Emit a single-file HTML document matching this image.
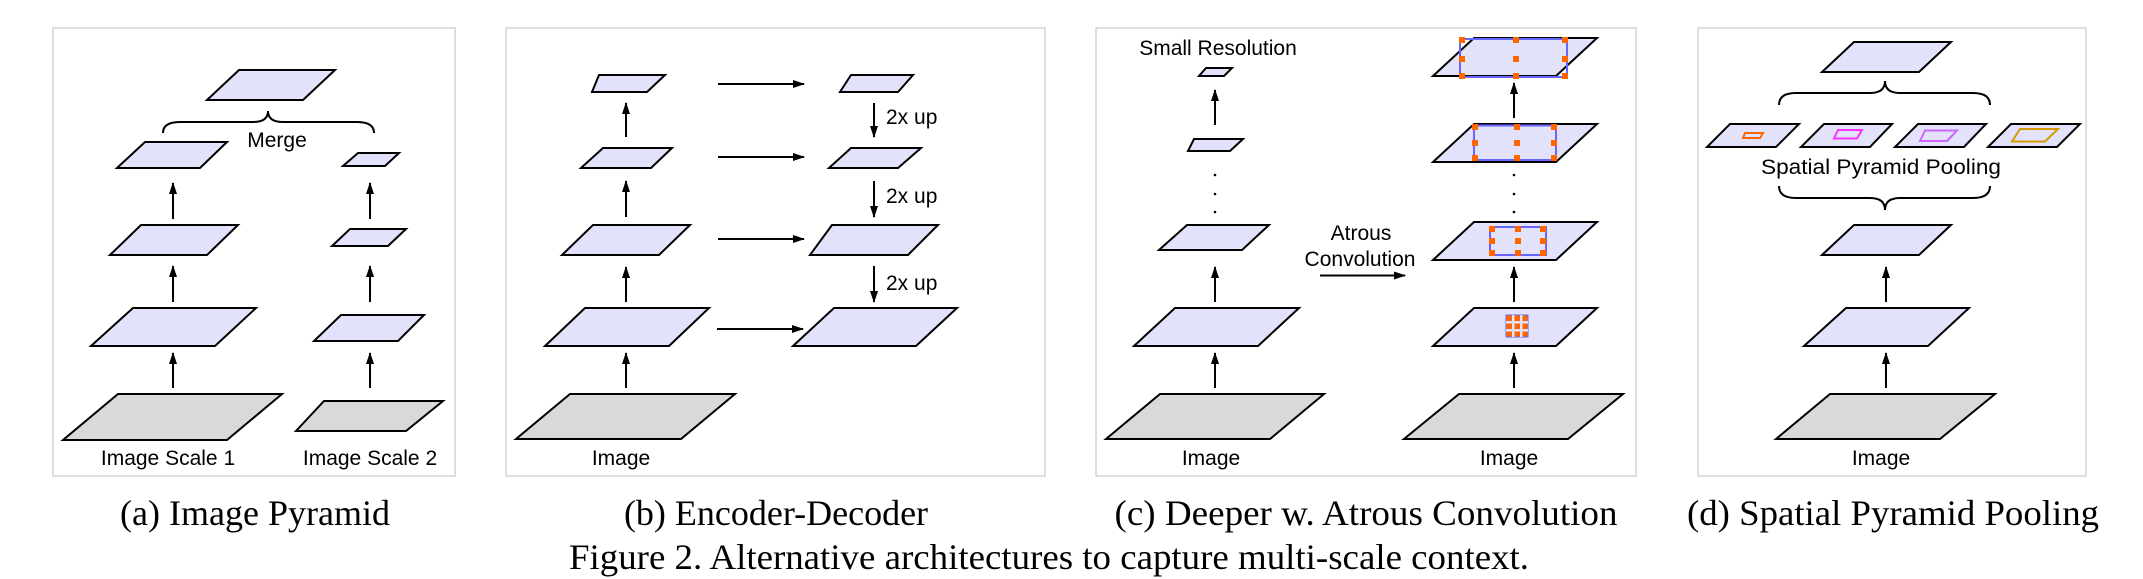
<!DOCTYPE html>
<html><head><meta charset="utf-8"><style>
html,body{margin:0;padding:0;background:#fff}
svg{display:block}
.p{fill:#e2e2fa;stroke:#000;stroke-width:2;stroke-linejoin:miter}
.g{fill:#d9d9d9;stroke:#000;stroke-width:2}
.box{fill:none;stroke:#d4d4d4;stroke-width:1.5}
.s{font-family:"Liberation Sans",sans-serif;font-size:21px;fill:#000}
.c{font-family:"Liberation Serif",serif;font-size:36px;fill:#000}
.ar{stroke:#000;stroke-width:2;fill:none;marker-end:url(#ah)}
.br{fill:none;stroke:#000;stroke-width:2}
.o{fill:#ff6600}
.bl{fill:none;stroke:#6666ff;stroke-width:2}
</style></head><body>
<svg width="2143" height="579" viewBox="0 0 2143 579" xmlns="http://www.w3.org/2000/svg">
<defs><marker id="ah" markerUnits="userSpaceOnUse" markerWidth="12" markerHeight="8" refX="11" refY="4" orient="auto"><path d="M0,0 L12,4 L0,8 z" fill="#000"/></marker></defs>

<!-- Panel a -->
<rect class="box" x="53" y="28" width="402" height="448"/>
<polygon class="p" points="239,70 335,70 303,100 207,100"/>
<path class="br" d="M163,133 Q163,122 180,122 L253,122 Q268,122 268,111 Q268,122 283,122 L357,122 Q374,122 374,133"/>
<text class="s" x="277" y="147" text-anchor="middle">Merge</text>
<polygon class="p" points="145,142 227,142 200,168 117,168"/>
<line class="ar" x1="173" y1="219" x2="173" y2="183"/>
<polygon class="p" points="141,225 238,225 207,255 110,255"/>
<line class="ar" x1="173" y1="302" x2="173" y2="266"/>
<polygon class="p" points="133,308 256,308 215,346 91,346"/>
<line class="ar" x1="173" y1="388" x2="173" y2="353"/>
<polygon class="g" points="118,394 282,394 227,440 63,440"/>
<text class="s" x="168" y="465" text-anchor="middle">Image Scale 1</text>
<polygon class="p" points="358,153 399,153 385,166 343,166"/>
<line class="ar" x1="370" y1="219" x2="370" y2="183"/>
<polygon class="p" points="350,229 406,229 388,246 332,246"/>
<line class="ar" x1="370" y1="302" x2="370" y2="266"/>
<polygon class="p" points="341,315 424,315 398,341 314,341"/>
<line class="ar" x1="370" y1="388" x2="370" y2="353"/>
<polygon class="g" points="324,401 443,401 406,431 296,431"/>
<text class="s" x="370" y="465" text-anchor="middle">Image Scale 2</text>
<text class="c" x="255" y="525" text-anchor="middle">(a) Image Pyramid</text>

<!-- Panel b -->
<rect class="box" x="506" y="28" width="539" height="448"/>
<polygon class="p" points="599,75 665,75 647,92 592,92"/>
<line class="ar" x1="626" y1="137" x2="626" y2="103"/>
<polygon class="p" points="603,148 672,148 651,168 581,168"/>
<line class="ar" x1="626" y1="217" x2="626" y2="181"/>
<polygon class="p" points="593,225 690,225 659,255 562,255"/>
<line class="ar" x1="626" y1="302" x2="626" y2="267"/>
<polygon class="p" points="585,308 709,308 669,346 545,346"/>
<line class="ar" x1="626" y1="388" x2="626" y2="353"/>
<polygon class="g" points="570,394 735,394 681,439 516,439"/>
<text class="s" x="621" y="465" text-anchor="middle">Image</text>
<line class="ar" x1="718" y1="84" x2="804" y2="84"/>
<line class="ar" x1="718" y1="157" x2="804" y2="157"/>
<line class="ar" x1="718" y1="239" x2="804" y2="239"/>
<line class="ar" x1="717" y1="329" x2="803" y2="329"/>
<polygon class="p" points="851,75 913,75 898,92 840,92"/>
<line class="ar" x1="874" y1="103" x2="874" y2="137"/>
<text class="s" x="886" y="124">2x up</text>
<polygon class="p" points="851,148 921,148 898,168 829,168"/>
<line class="ar" x1="874" y1="181" x2="874" y2="217"/>
<text class="s" x="886" y="203">2x up</text>
<polygon class="p" points="832,225 938,225 908,255 810,255"/>
<line class="ar" x1="874" y1="266" x2="874" y2="302"/>
<text class="s" x="886" y="290">2x up</text>
<polygon class="p" points="834,308 957,308 916,346 793,346"/>
<text class="c" x="776" y="525" text-anchor="middle">(b) Encoder-Decoder</text>

<!-- Panel c -->
<rect class="box" x="1096" y="28" width="540" height="448"/>
<text class="s" x="1218" y="55" text-anchor="middle">Small Resolution</text>
<polygon class="p" points="1206,68 1232,68 1224,76 1199,76"/>
<line class="ar" x1="1215" y1="125" x2="1215" y2="90"/>
<polygon class="p" points="1194,139 1243,139 1230,151 1188,151"/>
<circle cx="1215" cy="175" r="1.3"/><circle cx="1215" cy="194" r="1.3"/><circle cx="1215" cy="212" r="1.3"/>
<polygon class="p" points="1187,225 1269,225 1242,250 1159,250"/>
<line class="ar" x1="1215" y1="302" x2="1215" y2="267"/>
<polygon class="p" points="1175,308 1299,308 1258,346 1134,346"/>
<line class="ar" x1="1215" y1="388" x2="1215" y2="353"/>
<polygon class="g" points="1160,394 1324,394 1270,439 1106,439"/>
<text class="s" x="1211" y="465" text-anchor="middle">Image</text>
<text class="s" x="1361" y="240" text-anchor="middle">Atrous</text>
<text class="s" x="1360" y="266" text-anchor="middle">Convolution</text>
<line class="ar" x1="1320" y1="275.5" x2="1405" y2="275.5"/>

<polygon class="p" points="1474,38 1597,38 1556,76 1433,76"/>
<rect class="bl" x="1460" y="39" width="107" height="38"/>
<g class="o">
<rect x="1459" y="37" width="6" height="6"/><rect x="1513" y="37" width="6" height="6"/><rect x="1562" y="37" width="6" height="6"/>
<rect x="1459" y="56" width="6" height="6"/><rect x="1513" y="56" width="6" height="6"/><rect x="1562" y="56" width="6" height="6"/>
<rect x="1459" y="73" width="6" height="6"/><rect x="1513" y="73" width="6" height="6"/><rect x="1562" y="73" width="6" height="6"/>
</g>
<line class="ar" x1="1514" y1="118" x2="1514" y2="83"/>
<polygon class="p" points="1474,124 1597,124 1556,162 1433,162"/>
<rect class="bl" x="1474" y="125.5" width="82" height="34.5"/>
<g class="o">
<rect x="1472" y="124" width="6" height="6"/><rect x="1514" y="124" width="6" height="6"/><rect x="1551" y="124" width="6" height="6"/>
<rect x="1472" y="140" width="6" height="6"/><rect x="1514" y="140" width="6" height="6"/><rect x="1551" y="140" width="6" height="6"/>
<rect x="1472" y="155" width="6" height="6"/><rect x="1514" y="155" width="6" height="6"/><rect x="1551" y="155" width="6" height="6"/>
</g>
<circle cx="1514" cy="175" r="1.3"/><circle cx="1514" cy="194" r="1.3"/><circle cx="1514" cy="212" r="1.3"/>
<polygon class="p" points="1474,222 1597,222 1556,260 1433,260"/>
<rect class="bl" x="1490" y="227" width="56" height="28"/>
<g class="o">
<rect x="1489" y="226" width="6" height="6"/><rect x="1515" y="226" width="6" height="6"/><rect x="1540" y="226" width="6" height="6"/>
<rect x="1489" y="238" width="6" height="6"/><rect x="1515" y="238" width="6" height="6"/><rect x="1540" y="238" width="6" height="6"/>
<rect x="1489" y="250" width="6" height="6"/><rect x="1515" y="250" width="6" height="6"/><rect x="1540" y="250" width="6" height="6"/>
</g>
<line class="ar" x1="1514" y1="302" x2="1514" y2="267"/>
<polygon class="p" points="1474,308 1597,308 1556,346 1433,346"/>
<rect x="1506" y="315" width="22" height="22" fill="#ff6600" stroke="#6666ff" stroke-width="1"/>
<g fill="#e2e2fa"><rect x="1512" y="315" width="2.5" height="22"/><rect x="1520" y="315" width="2.5" height="22"/><rect x="1506" y="321" width="22" height="2.5"/><rect x="1506" y="329" width="22" height="2.5"/></g>
<line class="ar" x1="1514" y1="388" x2="1514" y2="353"/>
<polygon class="g" points="1459,394 1623,394 1568,439 1404,439"/>
<text class="s" x="1509" y="465" text-anchor="middle">Image</text>
<text class="c" x="1366" y="525" text-anchor="middle" textLength="503" lengthAdjust="spacingAndGlyphs">(c) Deeper w. Atrous Convolution</text>

<!-- Panel d -->
<rect class="box" x="1698" y="28" width="388" height="448"/>
<polygon class="p" points="1854,42 1951,42 1919,72 1822,72"/>
<path class="br" d="M1779,105 Q1779,93 1796,93 L1870,93 Q1885,93 1885,81 Q1885,93 1900,93 L1973,93 Q1990,93 1990,105"/>
<polygon class="p" points="1730,124 1799,124 1776,147 1707,147"/>
<polygon points="1745,133 1763,133 1760,138 1743,138" fill="none" stroke="#ff6600" stroke-width="2"/>
<polygon class="p" points="1824,124 1892,124 1870,147 1801,147"/>
<polygon points="1838,130 1862,130 1857,138.5 1834,138.5" fill="none" stroke="#ff33ff" stroke-width="2"/>
<polygon class="p" points="1918,124 1986,124 1964,147 1895,147"/>
<polygon points="1925,130.5 1957,130.5 1947,141 1920,141" fill="none" stroke="#cc66ff" stroke-width="2"/>
<polygon class="p" points="2011,124 2080,124 2057,147 1988,147"/>
<polygon points="2020,129 2058,129 2045,141.5 2012,141.5" fill="none" stroke="#d49a00" stroke-width="2"/>
<text class="s" x="1881" y="174" text-anchor="middle" textLength="240" lengthAdjust="spacingAndGlyphs">Spatial Pyramid Pooling</text>
<path class="br" d="M1779,186 Q1779,198 1796,198 L1870,198 Q1885,198 1885,210 Q1885,198 1900,198 L1973,198 Q1990,198 1990,186"/>
<polygon class="p" points="1854,225 1951,225 1919,255 1822,255"/>
<line class="ar" x1="1886" y1="302" x2="1886" y2="267"/>
<polygon class="p" points="1846,308 1969,308 1928,346 1804,346"/>
<line class="ar" x1="1886" y1="388" x2="1886" y2="353"/>
<polygon class="g" points="1830,394 1995,394 1940,439 1776,439"/>
<text class="s" x="1881" y="465" text-anchor="middle">Image</text>
<text class="c" x="1893" y="525" text-anchor="middle" textLength="412" lengthAdjust="spacingAndGlyphs">(d) Spatial Pyramid Pooling</text>

<text class="c" x="569" y="569" textLength="960" lengthAdjust="spacingAndGlyphs">Figure 2. Alternative architectures to capture multi-scale context.</text>
</svg>
</body></html>
